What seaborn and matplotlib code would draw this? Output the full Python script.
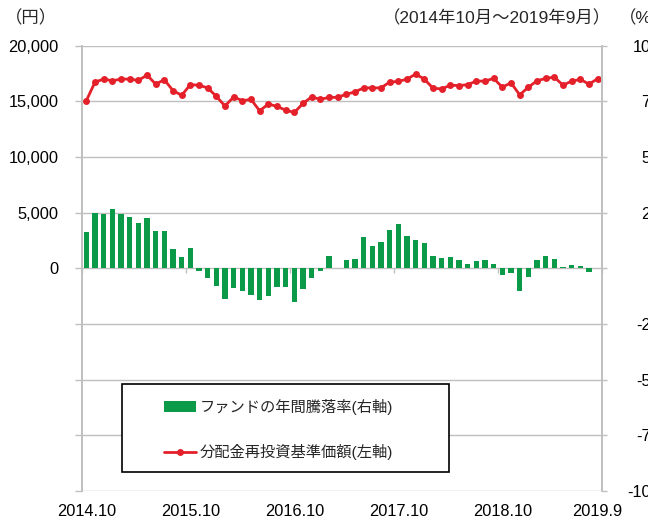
import seaborn as sns
import matplotlib.pyplot as plt
from matplotlib.patches import Rectangle
from matplotlib.ticker import FixedLocator, FuncFormatter

# monthly data, 2014.10 - 2019.9 (60 months)
month_idx = list(range(60))

# 分配金再投資基準価額 (円, left axis)
nav = [15060, 16730, 17000, 16850, 17000, 17000, 16880, 17360, 16550, 16940,
       15970, 15545, 16500, 16450, 16210, 15450, 14580, 15400, 15060, 15180,
       14150, 14760, 14545, 14210, 14000, 14820, 15400, 15180, 15360, 15360,
       15640, 15850, 16210, 16210, 16210, 16730, 16790, 17000, 17450, 17000,
       16180, 16120, 16450, 16420, 16500, 16820, 16820, 17060, 16270, 16670,
       15580, 16270, 16850, 17060, 17180, 16450, 16820, 16970, 16550, 17030]

# ファンドの年間騰落率 (%, right axis)
ret = [16.2, 25.0, 24.6, 26.5, 24.4, 23.2, 20.4, 22.8, 16.8, 16.8,
       8.5, 5.2, 9.1, -1.0, -4.5, -7.9, -13.8, -8.9, -10.1, -11.9,
       -14.1, -12.4, -8.6, -8.3, -14.9, -9.4, -4.5, -1.3, 5.4, 0.0,
       3.6, 4.0, 14.1, 10.0, 11.8, 17.3, 19.9, 14.6, 12.8, 11.3,
       5.4, 4.5, 5.2, 3.6, 1.8, 3.3, 3.6, 2.1, -3.1, -2.2,
       -10.0, -3.9, 3.7, 5.7, 4.2, 0.4, 1.6, 0.9, -1.5, 0.0]

tick_pos = [0, 12, 24, 36, 48, 59]
tick_labels = ["2014.10", "2015.10", "2016.10", "2017.10", "2018.10", "2019.9"]
year_marks = [-0.5, 11.5, 23.5, 35.5, 47.5, 59.5]

left_ticks = [-20000, -15000, -10000, -5000, 0, 5000, 10000, 15000, 20000]
right_ticks = [-100, -75, -50, -25, 0, 25, 50, 75, 100]

bar_label = "ファンドの年間騰落率(右軸)"
line_label = "分配金再投資基準価額(左軸)"

GREEN = "#0A9A48"
RED = "#E4202A"
GRID = "#BFBFBF"

sns.set_theme(style="white")
plt.rcParams["font.family"] = ["Liberation Sans", "Noto Sans CJK JP", "DejaVu Sans"]
plt.rcParams["axes.unicode_minus"] = False

fig = plt.figure(figsize=(6.48, 5.22), dpi=100)
ax = fig.add_axes([82 / 648, 1 - 491 / 522, 520 / 648, 445.3 / 522])
ax2 = ax.twinx()

# bars on the right axis
sns.barplot(x=month_idx, y=ret, ax=ax2, color=GREEN, width=0.6, linewidth=0,
            saturation=1, label=bar_label, legend=False)
# line on the left axis
sns.lineplot(x=month_idx, y=nav, ax=ax, color=RED, lw=2.0, marker="o",
             markersize=5, markeredgewidth=0, label=line_label, legend=False)
for a in (ax, ax2):
    if a.get_legend() is not None:
        a.get_legend().remove()

ax.set_xlim(-0.5, 59.5)
ax.set_ylim(-20000, 20000)
ax2.set_ylim(-100, 100)

# left axis
ax.yaxis.set_major_locator(FixedLocator(left_ticks))
ax.yaxis.set_major_formatter(FuncFormatter(lambda v, p: f"{int(v):,}" if v >= 0 else ""))
ax.grid(axis="y", color=GRID, lw=1.0)
ax.grid(axis="x", visible=False)
ax.tick_params(axis="y", which="major", direction="out", length=5, width=1,
               color=GRID, pad=12, labelsize=11.8, labelcolor="black", left=True)

# x axis labels at the bottom
ax.xaxis.set_major_locator(FixedLocator(tick_pos))
ax.set_xticklabels(tick_labels)
ax.tick_params(axis="x", length=0, pad=9.5, labelsize=11.8, labelcolor="black")
ax.set_xlabel("")
ax.set_ylabel("")

# right axis
ax2.yaxis.set_major_locator(FixedLocator(right_ticks))
ax2.tick_params(axis="y", direction="out", length=3.6, width=1, color=GRID,
                pad=38, labelsize=11.8, labelcolor="black", right=True)
for lab in ax2.get_yticklabels():
    lab.set_horizontalalignment("right")
ax2.grid(False)
ax2.set_ylabel("")

for a in (ax, ax2):
    a.spines["top"].set_visible(False)
    a.spines["bottom"].set_visible(False)
    a.spines["left"].set_color(GRID)
    a.spines["right"].set_color(GRID)
    a.spines["left"].set_linewidth(1.2)
    a.spines["right"].set_linewidth(1.2)

# small year ticks on the zero line
sec = ax.secondary_xaxis(0.5)
sec.set_alignment("bottom")
sec.xaxis.set_major_locator(FixedLocator(year_marks))
sec.tick_params(axis="x", direction="out", length=3.6, width=1, color=GRID,
                labelbottom=False, labeltop=False)
for s in sec.spines.values():
    s.set_visible(False)

# unit / period captions
fig.text(5 / 648, 1 - 18 / 522, "（円）", ha="left", va="center", fontsize=12.5)
fig.text(611 / 648, 1 - 18 / 522, "（2014年10月～2019年9月）", ha="right",
         va="center", fontsize=12.5)
fig.text(619 / 648, 1 - 18 / 522, "（%）", ha="left", va="center", fontsize=12.5)

# legend box
fig.patches.append(Rectangle((122 / 648, 1 - 472 / 522), 327 / 648, 88 / 522,
                             transform=fig.transFigure, facecolor="white",
                             edgecolor="black", lw=1.2, zorder=4))
h1, l1 = ax2.get_legend_handles_labels()
h2, l2 = ax.get_legend_handles_labels()
fig.legend(h1 + h2, l1 + l2, loc="upper left",
           bbox_to_anchor=(164 / 648, 1 - 399 / 522), frameon=False,
           fontsize=11, handlelength=2.1, handletextpad=0.25,
           labelspacing=1.9, borderpad=0, borderaxespad=0)

fig.savefig("out.png", dpi=100)
